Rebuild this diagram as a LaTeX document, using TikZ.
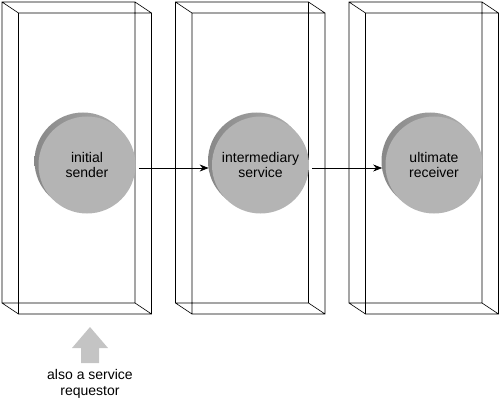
\documentclass[tikz,border=0pt]{standalone}
\usepackage{fontspec}
\setmainfont{Liberation Sans}
\usetikzlibrary{arrows.meta}
\definecolor{facegray}{HTML}{B4B4B4}
\definecolor{rimdark}{HTML}{888888}
\definecolor{rimlight}{HTML}{B0B0B0}
\definecolor{liftgray}{HTML}{C4C4C4}
\begin{document}
\begin{tikzpicture}[x=1pt,y=-1pt,line width=.7pt,
 disc/.style={circle,fill=facegray,minimum size=97pt,inner sep=0pt,align=center,
  font=\fontsize{14}{15.5}\selectfont}]
 \useasboundingbox (0,0) rectangle (500,401);
 % hộp 3 chiều + vành đĩa
 \foreach \bx in {2,175.5,349}{
  \draw[line width=.6pt]
   (\bx,2) rectangle +(133,301)
   (\bx+16.5,13) rectangle +(133,301)
   (\bx,2)--+(16.5,11) (\bx+133,2)--+(16.5,11)
   (\bx,303)--+(16.5,11) (\bx+133,303)--+(16.5,11);
  \shade[left color=rimdark,right color=rimlight] (\bx+81,161) circle (48.5);
 }
 % đĩa
 \foreach \bx/\nm/\txt in {2/sender/{initial\\sender},
   175.5/inter/{intermediary\\service},
   349/receiver/{ultimate\\receiver}}
  \node[disc] (\nm) at (\bx+85,165) {\txt};
 \begin{scope}[-{Stealth[length=9pt,width=7pt]},line width=.8pt]
 \draw[shorten <=3pt,shorten >=3pt] ([yshift=-3pt]sender.east)--([yshift=-3pt]inter.west);
 \draw[shorten <=3pt,shorten >=3pt] ([yshift=-3pt]inter.east)--([yshift=-3pt]receiver.west);
 \end{scope}
 % mũi tên xám
 \fill[liftgray] (90,327)--(108,348)--(99,348)--(99,363)--(81,363)--(81,348)--(72,348)--cycle;
 \node[align=center,font=\fontsize{14}{16.5}\selectfont] (req) at (90,384) {also a service\\requestor};
\end{tikzpicture}
\end{document}
